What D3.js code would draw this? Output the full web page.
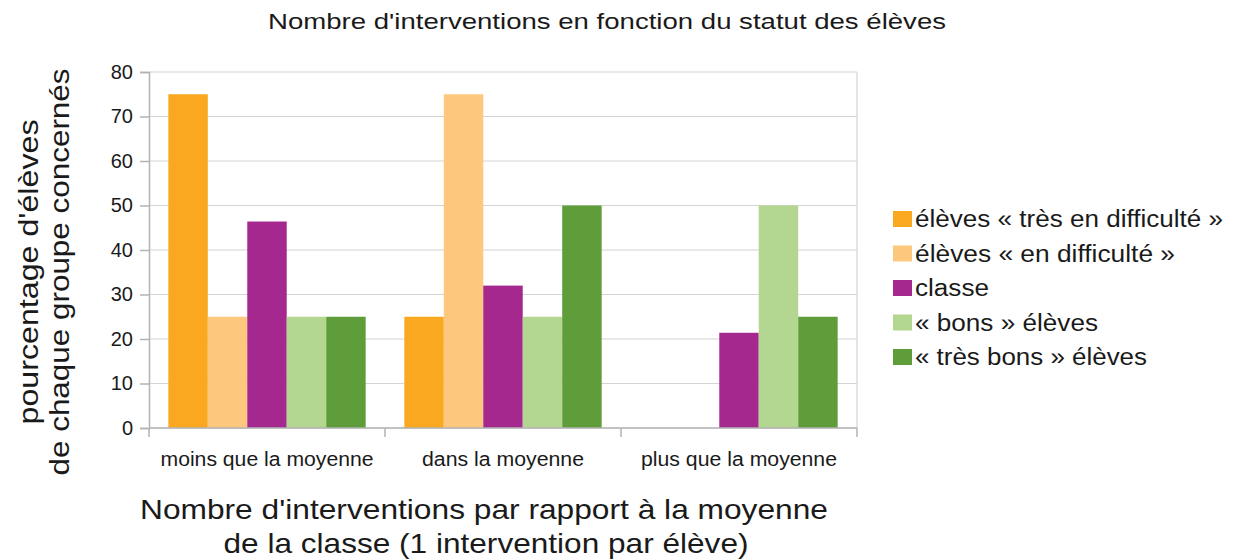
<!DOCTYPE html>
<html>
<head>
<meta charset="utf-8">
<script src="https://cdn.jsdelivr.net/npm/d3@7.9.0/dist/d3.min.js"></script>
<style>
  body { margin: 0; background: #fff; }
  text { font-family: "Liberation Sans", Arial, sans-serif; fill: #1a1a1a; }
</style>
</head>
<body>
<svg id="chart" width="1233" height="560"></svg>
<script>
// ====== DATA ======
const categories = ["moins que la moyenne", "dans la moyenne", "plus que la moyenne"];
const seriesNames = [
  "élèves « très en difficulté »",
  "élèves « en difficulté »",
  "classe",
  "« bons » élèves",
  "« très bons » élèves"
];
const tresEnDifficulte = [75, 25, 0];
const enDifficulte = [25, 75, 0];
const classe = [46.4, 32, 21.4];
const bons = [25, 25, 50];
const tresBons = [25, 50, 25];
const yTicks = [0, 10, 20, 30, 40, 50, 60, 70, 80];
const colors = ["#f9a81f", "#fdc77e", "#a5288f", "#b3d690", "#5e9d3a"];

const values = [tresEnDifficulte, enDifficulte, classe, bons, tresBons];

// rendered text widths in the original (the source font runs wider than ours)
const catLabelWidths = [213, 162, 196];
const legendWidths = [308, 260, 74, 183, 232];

// ====== LAYOUT ======
const svg = d3.select("#chart");
const plot = { left: 149, right: 857, top: 72, bottom: 428 };

const x0 = d3.scaleBand().domain(categories).range([plot.left, plot.right]).padding(0);
const x1 = d3.scaleBand().domain(seriesNames).range([0, x0.bandwidth()])
  .paddingInner(0).paddingOuter(0.49);
const y = d3.scaleLinear().domain([0, 80]).range([plot.bottom, plot.top]);

// gridlines
svg.append("g")
  .selectAll("line")
  .data(yTicks)
  .join("line")
  .attr("x1", plot.left).attr("x2", plot.right)
  .attr("y1", (d) => y(d)).attr("y2", (d) => y(d))
  .attr("stroke", "#d4d4d4").attr("stroke-width", 1.2);

// right border
svg.append("line")
  .attr("x1", plot.right).attr("x2", plot.right)
  .attr("y1", plot.top).attr("y2", plot.bottom)
  .attr("stroke", "#d4d4d4").attr("stroke-width", 1.2);

// bars
categories.forEach((cat, ci) => {
  seriesNames.forEach((s, si) => {
    const v = values[si][ci];
    if (!v) return;
    svg.append("rect")
      .attr("x", x0(cat) + x1(s))
      .attr("y", y(v))
      .attr("width", x1.bandwidth())
      .attr("height", y(0) - y(v))
      .attr("fill", colors[si]);
  });
});

// y axis
const yAxis = svg.append("g")
  .attr("transform", `translate(${plot.left},0)`)
  .call(d3.axisLeft(y).tickValues(yTicks).tickSize(9).tickPadding(7));
yAxis.select(".domain").attr("stroke", "#b3b3b3").attr("stroke-width", 1.5);
yAxis.selectAll(".tick line").attr("stroke", "#b3b3b3").attr("stroke-width", 1.5);
yAxis.selectAll("text")
  .style("font-family", '"Liberation Sans", Arial, sans-serif')
  .style("font-size", "20px").attr("fill", "#1a1a1a");

// x axis line + boundary ticks
svg.append("line")
  .attr("x1", plot.left).attr("x2", plot.right)
  .attr("y1", plot.bottom).attr("y2", plot.bottom)
  .attr("stroke", "#b3b3b3").attr("stroke-width", 1.5);
const boundaries = categories.map((c) => x0(c)).concat([plot.right]);
svg.append("g")
  .selectAll("line")
  .data(boundaries)
  .join("line")
  .attr("x1", (d) => d).attr("x2", (d) => d)
  .attr("y1", plot.bottom).attr("y2", plot.bottom + 9)
  .attr("stroke", "#b3b3b3").attr("stroke-width", 1.5);

svg.append("g")
  .selectAll("text")
  .data(categories)
  .join("text")
  .attr("x", (d) => x0(d) + x0.bandwidth() / 2)
  .attr("y", 466)
  .attr("text-anchor", "middle")
  .attr("textLength", (d, i) => catLabelWidths[i])
  .attr("lengthAdjust", "spacingAndGlyphs")
  .style("font-size", "20px")
  .text((d) => d);

// title
svg.append("text")
  .attr("x", 607).attr("y", 29)
  .attr("text-anchor", "middle")
  .attr("textLength", 678)
  .attr("lengthAdjust", "spacingAndGlyphs")
  .style("font-size", "22px")
  .text("Nombre d'interventions en fonction du statut des élèves");

// y axis title
const yTitle = svg.append("text")
  .attr("transform", "translate(0,272) rotate(-90)")
  .attr("text-anchor", "middle")
  .attr("lengthAdjust", "spacingAndGlyphs")
  .style("font-size", "27px");
yTitle.append("tspan").attr("x", 0).attr("y", 38)
  .attr("textLength", 305).attr("lengthAdjust", "spacingAndGlyphs")
  .text("pourcentage d'élèves");
yTitle.append("tspan").attr("x", 0).attr("y", 69)
  .attr("textLength", 407).attr("lengthAdjust", "spacingAndGlyphs")
  .text("de chaque groupe concernés");

// x axis title
const xTitle = svg.append("text")
  .attr("text-anchor", "middle")
  .style("font-size", "28px");
xTitle.append("tspan").attr("x", 484).attr("y", 519)
  .attr("textLength", 688).attr("lengthAdjust", "spacingAndGlyphs")
  .text("Nombre d'interventions par rapport à la moyenne");
xTitle.append("tspan").attr("x", 486).attr("y", 553)
  .attr("textLength", 525).attr("lengthAdjust", "spacingAndGlyphs")
  .text("de la classe (1 intervention par élève)");

// legend
const legend = svg.append("g");
seriesNames.forEach((s, i) => {
  const cy = 219 + i * 34.5;
  legend.append("rect")
    .attr("x", 893).attr("y", cy - 8)
    .attr("width", 19).attr("height", 16)
    .attr("fill", colors[i]);
  legend.append("text")
    .attr("x", 915).attr("y", cy + 8)
    .attr("textLength", legendWidths[i])
    .attr("lengthAdjust", "spacingAndGlyphs")
    .style("font-size", "23px")
    .text(s);
});
</script>
</body>
</html>
